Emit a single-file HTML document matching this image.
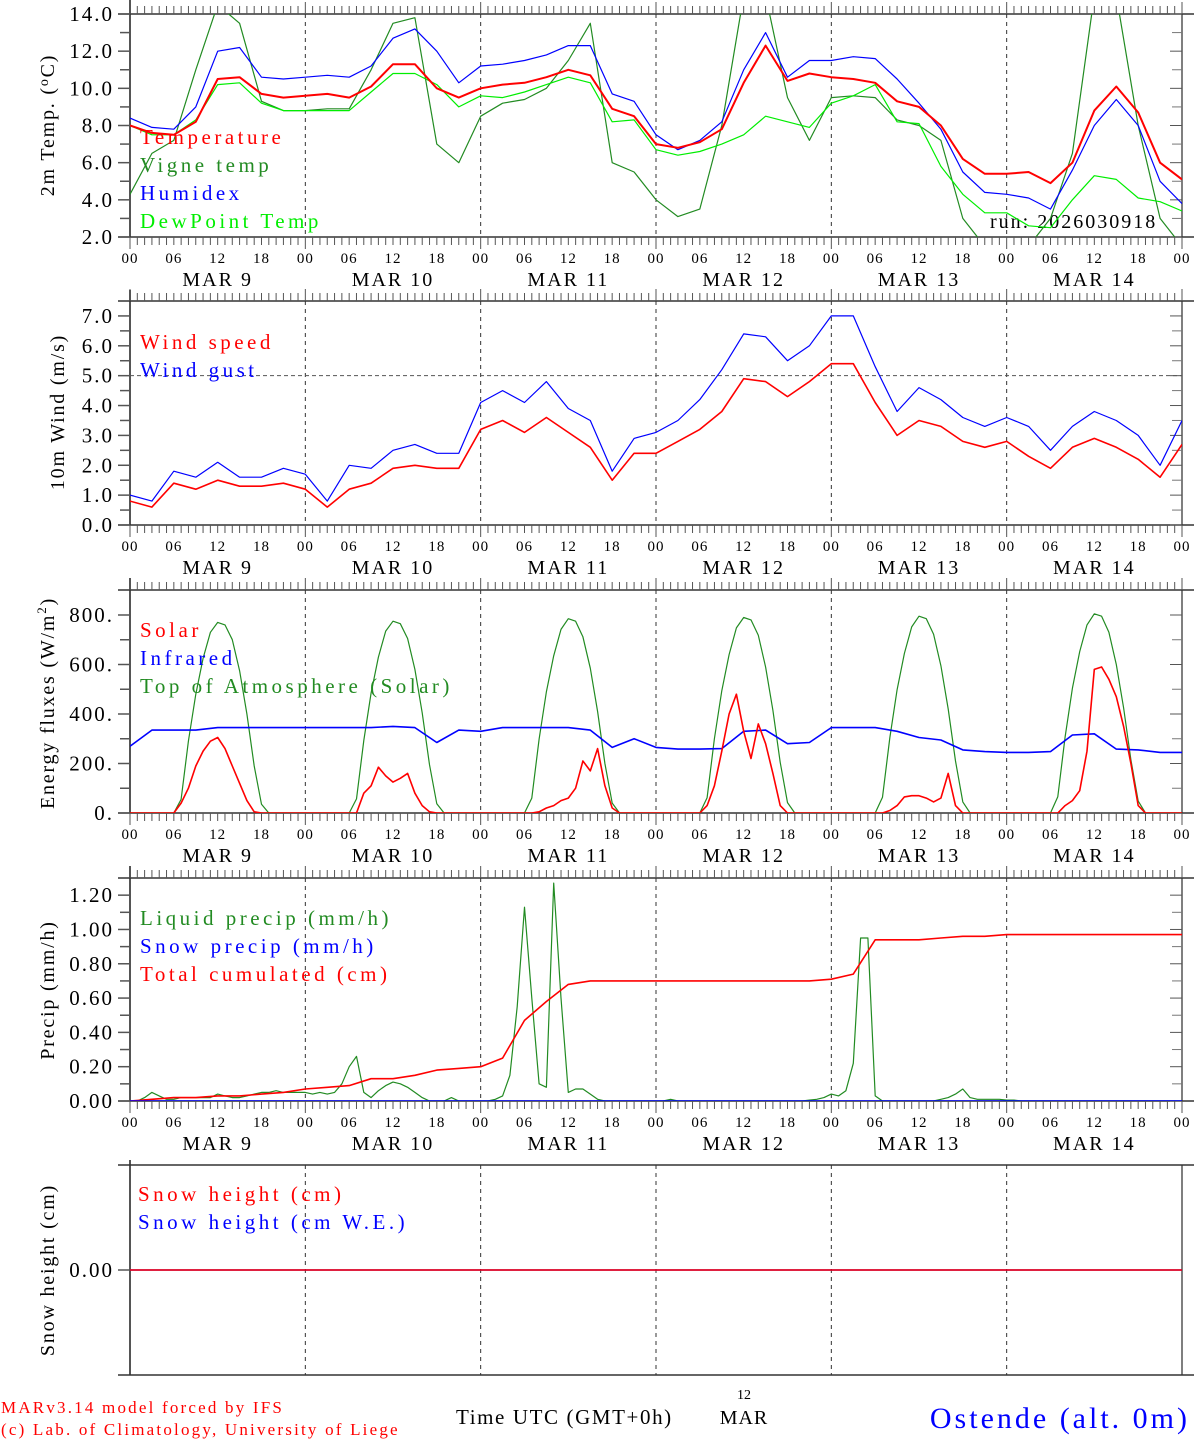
<!DOCTYPE html>
<html><head><meta charset="utf-8">
<style>
html,body{margin:0;padding:0;background:#fff;}
svg{display:block;}
text{font-family:"Liberation Serif",serif;}
</style></head>
<body>
<svg id="chart" width="1194" height="1440" viewBox="0 0 1194 1440" xmlns="http://www.w3.org/2000/svg">
<g id="bg"><rect x="0" y="0" width="1194" height="1440" fill="#fff"/></g>
<g id="panels"></g>
<g id="footer">
<text x="1" y="1413" fill="#f00" font-size="17" letter-spacing="2.2">MARv3.14 model forced by IFS</text>
<text x="1" y="1435" fill="#f00" font-size="17" letter-spacing="2.2">(c) Lab. of Climatology, University of Liege</text>
<text x="456" y="1424" fill="#000" font-size="21" letter-spacing="1.6">Time UTC (GMT+0h)</text>
<text x="744" y="1399" fill="#000" font-size="14" text-anchor="middle">12</text>
<text x="744" y="1424" fill="#000" font-size="20" text-anchor="middle" letter-spacing="1">MAR</text>
<text x="1190" y="1428" fill="#00f" font-size="30" text-anchor="end" letter-spacing="3">Ostende (alt. 0m)</text>
</g>
</svg>
<script>
// ---- data: 3-hourly (49 points, hours 0..144 step 3) ----
const temperature=[8.0,7.6,7.5,8.2,10.5,10.6,9.7,9.5, 9.6,9.7,9.5,10.1,11.3,11.3,10.0,9.5, 10.0,10.2,10.3,10.6,11.0,10.7,8.9,8.5, 7.0,6.8,7.1,7.8,10.3,12.3,10.4,10.8, 10.6,10.5,10.3,9.3,9.0,8.0,6.2,5.4, 5.4,5.5,4.9,6.0,8.8,10.1,8.7,6.0, 5.1];
const vigneTemp=[4.3,6.5,7.2,11.0,14.5,13.5,9.3,8.8, 8.8,8.9,8.9,11.0,13.5,13.8,7.0,6.0, 8.5,9.2,9.4,10.0,11.5,13.5,6.0,5.5, 4.0,3.1,3.5,8.0,15.0,15.0,9.5,7.2, 9.5,9.6,9.5,8.3,8.0,7.2,3.0,1.5, 1.5,1.5,3.0,6.5,15.0,15.0,8.0,3.0, 1.5];
const humidex=[8.4,7.9,7.8,9.0,12.0,12.2,10.6,10.5, 10.6,10.7,10.6,11.2,12.7,13.2,12.0,10.3, 11.2,11.3,11.5,11.8,12.3,12.3,9.7,9.3, 7.5,6.7,7.2,8.2,11.0,13.0,10.6,11.5, 11.5,11.7,11.6,10.5,9.2,7.8,5.5,4.4, 4.3,4.1,3.5,5.6,8.0,9.4,8.0,5.0, 3.8];
const dewPoint=[8.0,7.5,7.5,8.3,10.2,10.3,9.2,8.8, 8.8,8.8,8.8,9.8,10.8,10.8,10.2,9.0, 9.6,9.5,9.8,10.2,10.6,10.3,8.2,8.3, 6.7,6.4,6.6,7.0,7.5,8.5,8.2,7.9, 9.2,9.6,10.2,8.2,8.1,5.8,4.3,3.3, 3.3,2.6,2.5,4.0,5.3,5.1,4.1,3.9, 3.4];
const windSpeed=[0.8,0.6,1.4,1.2,1.5,1.3,1.3,1.4, 1.2,0.6,1.2,1.4,1.9,2.0,1.9,1.9, 3.2,3.5,3.1,3.6,3.1,2.6,1.5,2.4, 2.4,2.8,3.2,3.8,4.9,4.8,4.3,4.8, 5.4,5.4,4.1,3.0,3.5,3.3,2.8,2.6, 2.8,2.3,1.9,2.6,2.9,2.6,2.2,1.6, 2.7];
const windGust=[1.0,0.8,1.8,1.6,2.1,1.6,1.6,1.9, 1.7,0.8,2.0,1.9,2.5,2.7,2.4,2.4, 4.1,4.5,4.1,4.8,3.9,3.5,1.8,2.9, 3.1,3.5,4.2,5.2,6.4,6.3,5.5,6.0, 7.0,7.0,5.3,3.8,4.6,4.2,3.6,3.3, 3.6,3.3,2.5,3.3,3.8,3.5,3.0,2.0, 3.5];
const infrared=[270,335,335,335,345,345,345,345, 345,345,345,345,350,345,285,335, 330,345,345,345,345,335,265,300, 265,258,258,260,330,335,280,285, 345,345,345,330,305,295,255,248, 245,245,248,315,320,258,255,245, 245];
const cumulPrecip=[0.0,0.01,0.02,0.02,0.03,0.03,0.04,0.05, 0.07,0.08,0.09,0.13,0.13,0.15,0.18,0.19, 0.2,0.25,0.47,0.58,0.68,0.70,0.70,0.70, 0.70,0.70,0.70,0.70,0.70,0.70,0.70,0.70, 0.71,0.74,0.94,0.94,0.94,0.95,0.96,0.96, 0.97,0.97,0.97,0.97,0.97,0.97,0.97,0.97, 0.97];
const snowPrecip=[0,0,0,0,0,0,0,0, 0,0,0,0,0,0,0,0, 0,0,0,0,0,0,0,0, 0,0,0,0,0,0,0,0, 0,0,0,0,0,0,0,0, 0,0,0,0,0,0,0,0, 0];
const snowHeight=[0,0,0,0,0,0,0,0, 0,0,0,0,0,0,0,0, 0,0,0,0,0,0,0,0, 0,0,0,0,0,0,0,0, 0,0,0,0,0,0,0,0, 0,0,0,0,0,0,0,0, 0];
// ---- hourly (145 points) ----
const solar=[
0,0,0,0,0,0,0,40,100,190,250,290,305,260,190,120,50,5,0,0,0,0,0,0,
0,0,0,0,0,0,0,0,80,110,185,150,125,140,160,80,30,5,0,0,0,0,0,0,
0,0,0,0,0,0,0,0,5,20,30,50,60,100,210,170,260,110,20,0,0,0,0,0,
0,0,0,0,0,0,0,30,110,250,400,480,330,220,360,280,160,30,0,0,0,0,0,0,
0,0,0,0,0,0,0,0,10,30,65,70,70,60,45,60,160,30,0,0,0,0,0,0,
0,0,0,0,0,0,0,0,30,50,90,250,580,590,540,470,350,200,30,0,0,0,0,0,
0];
const toaSolar=[
0,0,0,0,0,0,0,55,290,480,625,730,770,760,700,575,400,190,35,0,0,0,0,0,
0,0,0,0,0,0,0,57,293,485,630,735,775,765,705,580,405,195,37,0,0,0,0,0,
0,0,0,0,0,0,0,60,298,490,635,742,785,775,712,585,410,200,40,0,0,0,0,0,
0,0,0,0,0,0,0,62,300,494,640,748,790,780,718,590,415,205,42,0,0,0,0,0,
0,0,0,0,0,0,0,64,303,498,645,752,795,785,722,595,420,210,45,0,0,0,0,0,
0,0,0,0,0,0,0,66,307,504,652,760,805,795,730,600,425,215,48,0,0,0,0,0,
0];
const liquidPrecip=[
0,0,0.02,0.05,0.03,0.01,0.01,0.02,0.02,0.02,0.02,0.02,0.04,0.03,0.02,0.02,0.03,0.04,0.05,0.05,0.06,0.05,0.05,0.05,
0.05,0.04,0.05,0.04,0.05,0.1,0.2,0.26,0.05,0.02,0.06,0.09,0.11,0.1,0.08,0.05,0.02,0,0,0,0.02,0,0,0,
0,0,0.01,0.03,0.15,0.55,1.13,0.6,0.1,0.08,1.27,0.6,0.05,0.07,0.07,0.04,0.01,0,0,0,0,0,0,0,
0,0,0.01,0,0,0,0,0,0,0,0,0,0,0,0,0,0,0,0,0,0,0.005,0.01,0.02,
0.04,0.03,0.06,0.22,0.95,0.95,0.03,0,0,0,0,0,0,0,0,0.01,0.02,0.04,0.07,0.02,0.01,0.01,0.01,0.01,
0.005,0.005,0,0,0,0,0,0,0,0,0,0,0,0,0,0,0,0,0,0,0,0,0,0,
0];
const hourLabels=["00","06","12","18"];
const dayLabels=["MAR  9","MAR 10","MAR 11","MAR 12","MAR 13","MAR 14"];

const NS="http://www.w3.org/2000/svg";
const root=document.getElementById('panels');
const X0=130,X1=1182,HOURS=144;
function xs(h){return X0+h*(X1-X0)/HOURS;}
function mk(tag,attrs,parent){const e=document.createElementNS(NS,tag);for(const k in attrs)e.setAttribute(k,attrs[k]);(parent||root).appendChild(e);return e;}

function panel(cfg){
  const g=mk('g',{});
  
  
  const ys=v=>cfg.bot-(v-cfg.vmin)*(cfg.bot-cfg.top)/(cfg.vmax-cfg.vmin);
  const cid='clip-'+cfg.name;
  const cp=mk('clipPath',{id:cid},g);mk('rect',{x:X0,y:cfg.top,width:X1-X0,height:cfg.bot-cfg.top},cp);
  for(let d=1;d<=6;d++){
    const l=mk('line',{x1:xs(d*24),x2:xs(d*24),y1:cfg.top,y2:cfg.bot,stroke:'#333','stroke-width':1,'stroke-dasharray':'4,4'},g);
    
    
  }
  mk('line',{x1:X0,x2:X0,y1:cfg.frameTop,y2:cfg.bot,stroke:'#555','stroke-width':2},g);
  mk('line',{x1:X1,x2:X1,y1:cfg.top,y2:cfg.bot,stroke:'#555','stroke-width':1.5},g);
  mk('line',{x1:X0-12,x2:X1+12,y1:cfg.top,y2:cfg.top,stroke:'#333','stroke-width':1.5},g);
  mk('line',{x1:X0-12,x2:X1+12,y1:cfg.bot,y2:cfg.bot,stroke:'#333','stroke-width':1.5},g);
  if(cfg.ticksX){
    for(let h=0;h<=HOURS;h++){
      const big=h%24===0;
      mk('line',{x1:xs(h),x2:xs(h),y1:cfg.top,y2:cfg.top-(big?12:8),stroke:'#555','stroke-width':1},g);
      mk('line',{x1:xs(h),x2:xs(h),y1:cfg.bot,y2:cfg.bot+(big?12:8),stroke:'#555','stroke-width':1},g);
    }
    for(let h=0;h<=HOURS;h+=6){
      const t=mk('text',{x:xs(h),y:cfg.bot+26,'font-size':15,'text-anchor':'middle','letter-spacing':'1',fill:'#000'},g);
      t.textContent=hourLabels[(h/6)%4];
      
      
    }
    for(let d=0;d<6;d++){
      const t=mk('text',{x:xs(d*24+12),y:cfg.bot+49,'font-size':20,'text-anchor':'middle','letter-spacing':'2',fill:'#000','xml:space':'preserve'},g);
      t.textContent=dayLabels[d];
      
      
    }
  }
  cfg.minor.forEach(v=>{mk('line',{x1:X0-10,x2:X0,y1:ys(v),y2:ys(v),stroke:'#555','stroke-width':1.5},g);
    mk('line',{x1:X1-10,x2:X1,y1:ys(v),y2:ys(v),stroke:'#777','stroke-width':1},g);});
  cfg.yt.forEach((v,i)=>{
    mk('line',{x1:X0-12,x2:X0,y1:ys(v),y2:ys(v),stroke:'#555','stroke-width':1.5},g);
    mk('line',{x1:X1-12,x2:X1,y1:ys(v),y2:ys(v),stroke:'#555','stroke-width':1},g);
    const t=mk('text',{x:X0-16,y:ys(v)+7,'font-size':21,'text-anchor':'end','letter-spacing':'2',fill:'#000'},g);
    t.textContent=cfg.ytl[i];
    
    
  });
  const yt=mk('text',{x:0,y:0,'font-size':20,'text-anchor':'middle','letter-spacing':'1.8',fill:'#000',transform:`translate(${cfg.titleX},${cfg.titleY}) rotate(-90)`},g);
  yt.innerHTML=cfg.title;
  
  
  if(cfg.extra)cfg.extra(g,ys);
  const sg=mk('g',{'clip-path':`url(#${cid})`},g);
  cfg.series.forEach(s=>{
    const step=s.step||3;
    const pts=s.data.map((v,i)=>xs(i*step).toFixed(1)+','+ys(v).toFixed(1)).join(' ');
    const p=mk('polyline',{points:pts,fill:'none',stroke:s.color,'stroke-width':s.w||1.3,'stroke-linejoin':'round'},sg);
    
    
  });
  cfg.legend.forEach((L,i)=>{
    const t=mk('text',{x:cfg.legX,y:cfg.legY+i*28,'font-size':21,fill:L[1],'letter-spacing':'3.5'},g);
    t.textContent=L[0];
    
    
  });
}
function range(a,b,s){const r=[];for(let v=a;v<=b+1e-9;v+=s)r.push(+v.toFixed(4));return r;}

panel({name:'temperature-panel',top:14,bot:237,frameTop:0,vmin:2,vmax:14,ticksX:true,
  yt:range(2,14,2),ytl:["2.0","4.0","6.0","8.0","10.0","12.0","14.0"],minor:range(3,13,2),
  title:'2m Temp. (<tspan font-size="14" dy="-6">o</tspan><tspan dy="6">C)</tspan>',titleX:54,titleY:125,
  series:[{data:vigneTemp,color:'#228b22',name:'vigne-temp-line',w:1.2},{data:dewPoint,color:'#00ee00',name:'dewpoint-line',w:1.2},{data:humidex,color:'#0000ff',name:'humidex-line',w:1.2},{data:temperature,color:'#ff0000',name:'temperature-line',w:2}],
  legend:[["Temperature","#ff0000"],["Vigne temp","#228b22"],["Humidex","#0000ff"],["DewPoint Temp","#00ee00"]],legX:140,legY:144,
  extra:(g)=>{const t=mk('text',{x:990,y:228,'font-size':20,'letter-spacing':'2',fill:'#000'},g);t.textContent='run: 2026030918';
    
    }
});
panel({name:'wind-panel',top:301,bot:525,frameTop:290,vmin:0,vmax:7.5,ticksX:true,
  yt:range(0,7,1),ytl:["0.0","1.0","2.0","3.0","4.0","5.0","6.0","7.0"],minor:range(0.5,7,1),
  title:'10m Wind (m/s)',titleX:64,titleY:412,
  extra:(g,ys)=>{const l=mk('line',{x1:X0,x2:X1,y1:ys(5),y2:ys(5),stroke:'#555','stroke-width':1,'stroke-dasharray':'4,3'},g);
    
    },
  series:[{data:windGust,color:'#0000ff',name:'wind-gust-line',w:1.2},{data:windSpeed,color:'#ff0000',name:'wind-speed-line',w:1.6}],
  legend:[["Wind speed","#ff0000"],["Wind gust","#0000ff"]],legX:140,legY:349
});
panel({name:'energy-panel',top:590,bot:813,frameTop:578,vmin:0,vmax:901,ticksX:true,
  yt:[0,200,400,600,800],ytl:["0.","200.","400.","600.","800."],minor:[100,300,500,700],
  title:'Energy fluxes (W/m<tspan font-size="13" dy="-8">2</tspan><tspan dy="8">)</tspan>',titleX:54,titleY:703,
  series:[{data:toaSolar,step:1,color:'#228b22',name:'toa-solar-line',w:1.2},{data:infrared,color:'#0000ff',name:'infrared-line',w:1.6},{data:solar,step:1,color:'#ff0000',name:'solar-line',w:1.6}],
  legend:[["Solar","#ff0000"],["Infrared","#0000ff"],["Top of Atmosphere (Solar)","#228b22"]],legX:140,legY:637
});
panel({name:'precip-panel',top:878,bot:1101,frameTop:866,vmin:0,vmax:1.3,ticksX:true,
  yt:range(0,1.2,0.2),ytl:["0.00","0.20","0.40","0.60","0.80","1.00","1.20"],minor:range(0.1,1.1,0.2),
  title:'Precip (mm/h)',titleX:54,titleY:990,
  series:[{data:liquidPrecip,step:1,color:'#228b22',name:'liquid-precip-line',w:1.2},{data:cumulPrecip,color:'#ff0000',name:'cumulated-precip-line',w:1.6},{data:snowPrecip,color:'#0000ff',name:'snow-precip-line',w:1.6}],
  legend:[["Liquid precip (mm/h)","#228b22"],["Snow precip (mm/h)","#0000ff"],["Total cumulated (cm)","#ff0000"]],legX:140,legY:925
});
panel({name:'snow-panel',top:1165,bot:1375,frameTop:1160,vmin:-1,vmax:1,ticksX:false,
  yt:[0],ytl:["0.00"],minor:[],
  title:'Snow height (cm)',titleX:54,titleY:1270,
  series:[{data:snowHeight,color:'#0000ff',name:'snow-we-line',w:1.6},{data:snowHeight,color:'#ff0000',name:'snow-height-line',w:1.6}],
  legend:[["Snow height (cm)","#ff0000"],["Snow height (cm W.E.)","#0000ff"]],legX:138,legY:1201
});
</script>
</body></html>
